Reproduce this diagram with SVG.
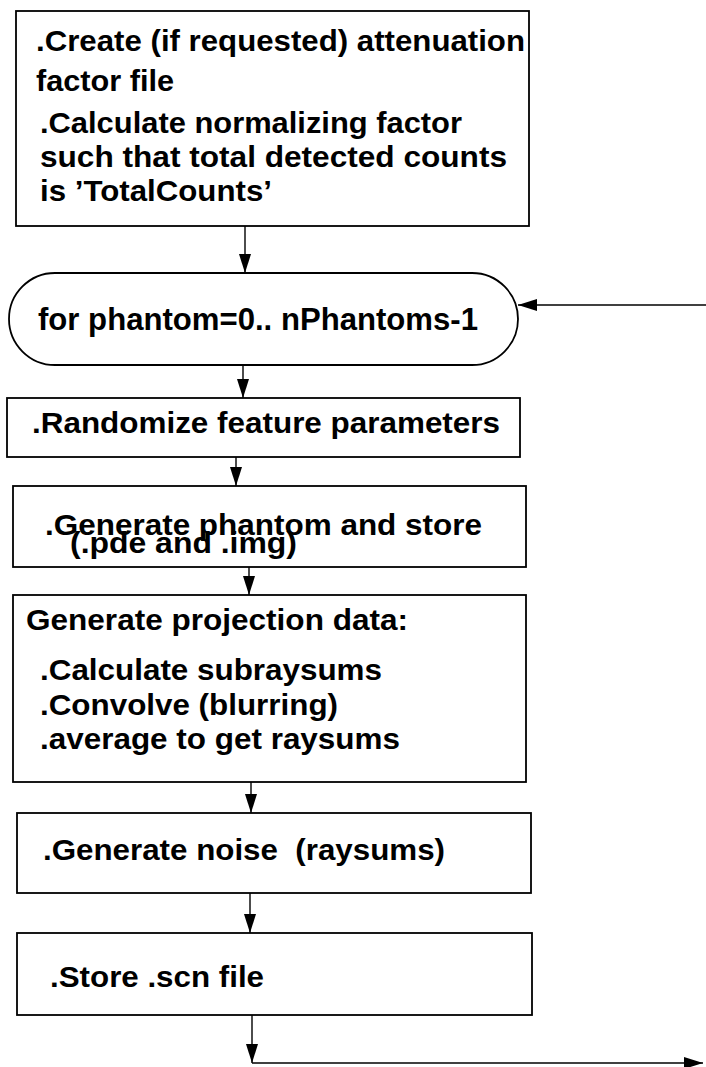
<svg xmlns="http://www.w3.org/2000/svg" width="706" height="1067" viewBox="0 0 706 1067">
  <style>
    .box { fill: #fff; stroke: #000; stroke-width: 1.8; }
    .t { font-family: "Liberation Sans", Arial, Helvetica, sans-serif; font-weight: bold; font-size: 30px; fill: #000; }
    .big { font-size: 32px; }
    .conn { fill: none; stroke: #000; stroke-width: 1.4; marker-end: url(#ah); }
  </style>
  <defs>
    <marker id="ah" markerUnits="userSpaceOnUse" markerWidth="19" markerHeight="12" refX="19" refY="6" orient="auto">
      <path d="M0,0 L19,6 L0,12 z" fill="#000"/>
    </marker>
  </defs>

  <rect width="706" height="1067" fill="#fff"/>

  <g id="setup">
    <rect class="box" x="16" y="11" width="513" height="215"/>
    <text class="t" x="36" y="51" textLength="489" lengthAdjust="spacingAndGlyphs">.Create (if requested) attenuation</text>
    <text class="t" x="36" y="91" textLength="138" lengthAdjust="spacingAndGlyphs">factor file</text>
    <text class="t" x="40" y="133" textLength="422" lengthAdjust="spacingAndGlyphs">.Calculate normalizing factor</text>
    <text class="t" x="40" y="167" textLength="467" lengthAdjust="spacingAndGlyphs">such that total detected counts</text>
    <text class="t" x="40" y="201" textLength="232" lengthAdjust="spacingAndGlyphs">is ’TotalCounts’</text>
  </g>

  <g id="loop">
    <rect class="box" x="9" y="273" width="509" height="92" rx="46" ry="46"/>
    <text class="t big" x="38" y="330" textLength="440" lengthAdjust="spacingAndGlyphs">for phantom=0.. nPhantoms-1</text>
  </g>

  <g id="randomize">
    <rect class="box" x="7" y="398" width="513" height="59"/>
    <text class="t" x="32" y="433" textLength="468" lengthAdjust="spacingAndGlyphs">.Randomize feature parameters</text>
  </g>

  <g id="phantom">
    <rect class="box" x="13" y="486" width="513" height="81"/>
    <text class="t" x="45" y="535" textLength="437" lengthAdjust="spacingAndGlyphs">.Generate phantom and store</text>
    <text class="t" x="70" y="553" textLength="227" lengthAdjust="spacingAndGlyphs">(.pde and .img)</text>
  </g>

  <g id="projection">
    <rect class="box" x="13" y="595" width="513" height="187"/>
    <text class="t" x="26" y="630" textLength="382" lengthAdjust="spacingAndGlyphs">Generate projection data:</text>
    <text class="t" x="40" y="680" textLength="342" lengthAdjust="spacingAndGlyphs">.Calculate subraysums</text>
    <text class="t" x="40" y="715" textLength="298" lengthAdjust="spacingAndGlyphs">.Convolve (blurring)</text>
    <text class="t" x="40" y="749" textLength="360" lengthAdjust="spacingAndGlyphs">.average to get raysums</text>
  </g>

  <g id="noise">
    <rect class="box" x="17" y="813" width="514" height="80"/>
    <text class="t" x="43" y="860" textLength="402" lengthAdjust="spacingAndGlyphs" xml:space="preserve">.Generate noise  (raysums)</text>
  </g>

  <g id="store">
    <rect class="box" x="17" y="933" width="515" height="82"/>
    <text class="t" x="50" y="987" textLength="214" lengthAdjust="spacingAndGlyphs">.Store .scn file</text>
  </g>

  <g id="connectors">
    <line class="conn" x1="245" y1="226" x2="245" y2="273"/>
    <line class="conn" x1="706" y1="305" x2="518" y2="305"/>
    <line class="conn" x1="243" y1="365" x2="243" y2="398"/>
    <line class="conn" x1="236" y1="457" x2="236" y2="486"/>
    <line class="conn" x1="249" y1="567" x2="249" y2="595"/>
    <line class="conn" x1="251" y1="782" x2="251" y2="813"/>
    <line class="conn" x1="250" y1="893" x2="250" y2="933"/>
    <line class="conn" x1="252" y1="1015" x2="252" y2="1063"/>
    <line class="conn" x1="252" y1="1063" x2="703" y2="1063"/>
  </g>
</svg>
